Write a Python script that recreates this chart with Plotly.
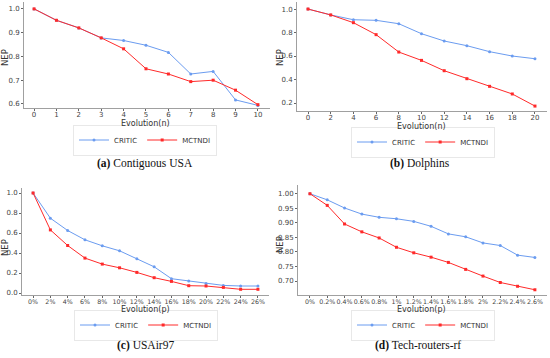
import plotly.graph_objects as go

# ---- data ----
a_x = [0, 1, 2, 3, 4, 5, 6, 7, 8, 9, 10]
a_critic = [1.0, 0.952, 0.92, 0.878, 0.867, 0.847, 0.817, 0.726, 0.737, 0.617, 0.594]
a_mctndi = [1.0, 0.952, 0.92, 0.878, 0.832, 0.748, 0.726, 0.694, 0.700, 0.658, 0.597]

b_x = [0, 2, 4, 6, 8, 10, 12, 14, 16, 18, 20]
b_critic = [1.0, 0.95, 0.909, 0.904, 0.875, 0.79, 0.728, 0.688, 0.637, 0.600, 0.577]
b_mctndi = [1.0, 0.95, 0.884, 0.782, 0.634, 0.563, 0.475, 0.407, 0.342, 0.277, 0.174]

c_x = ["0%", "2%", "4%", "6%", "8%", "10%", "12%", "14%", "16%", "18%", "20%", "22%", "24%", "26%"]
c_critic = [1.0, 0.748, 0.625, 0.532, 0.472, 0.422, 0.342, 0.262, 0.143, 0.120, 0.096, 0.076, 0.070, 0.070]
c_mctndi = [1.0, 0.631, 0.475, 0.349, 0.289, 0.252, 0.206, 0.153, 0.116, 0.073, 0.070, 0.056, 0.037, 0.037]

d_x = ["0%", "0.2%", "0.4%", "0.6%", "0.8%", "1%", "1.2%", "1.4%", "1.6%", "1.8%", "2%", "2.2%", "2.4%", "2.6%"]
d_critic = [1.0, 0.979, 0.951, 0.930, 0.919, 0.914, 0.905, 0.888, 0.862, 0.852, 0.831, 0.822, 0.789, 0.781]
d_mctndi = [1.0, 0.960, 0.896, 0.869, 0.848, 0.816, 0.797, 0.782, 0.764, 0.740, 0.717, 0.695, 0.682, 0.670]

captions = ["<b>(a)</b> Contiguous USA", "<b>(b)</b> Dolphins", "<b>(c)</b> USAir97", "<b>(d)</b> Tech-routers-rf"]
xtitles = ["Evolution(n)", "Evolution(n)", "Evolution(p)", "Evolution(p)"]
ytitle = "NEP"

BLUE = "#6b9cf0"
RED = "#ff2a2a"
W, H = 550, 358

def px(x):
    return x / W

def py(y):
    return 1 - y / H

fig = go.Figure()

panels = [
    dict(x=a_x, c=a_critic, m=a_mctndi, xr=[-0.45, 10.54], yr=[0.583, 1.029],
         dom_x=[24, 270], dom_y=[2, 108], dtick=0.1, fmt=".1f", leg=(145, 140), cap=(145, 163), tf=7,
         xt=(145, 124), yt=(5, 58)),
    dict(x=b_x, c=b_critic, m=b_mctndi, xr=[-0.97, 21.06], yr=[0.132, 1.06],
         dom_x=[297, 547], dom_y=[2, 111], dtick=0.2, fmt=".1f", leg=(423, 142), cap=(420, 163), tf=7,
         xt=(422, 126), yt=(280, 57)),
    dict(x=c_x, c=c_critic, m=c_mctndi, xr=[-0.64, 13.64], yr=[-0.02, 1.05],
         dom_x=[22, 269], dom_y=[188, 295], dtick=0.2, fmt=".1f", leg=(146, 325), cap=(145, 345), tf=6.3,
         xt=(145, 309), yt=(5, 248)),
    dict(x=d_x, c=d_critic, m=d_mctndi, xr=[-0.69, 13.7], yr=[0.652, 1.03],
         dom_x=[298, 547], dom_y=[185, 295], dtick=0.05, fmt=".2f", leg=(423, 325), cap=(418, 345), tf=6.3,
         xt=(422, 309), yt=(280, 244)),
]

layout = {}
annotations = []
for i, p in enumerate(panels):
    n = i + 1
    sx = "" if n == 1 else str(n)
    leg = "legend" if n == 1 else f"legend{n}"
    fig.add_trace(go.Scatter(x=p["x"], y=p["c"], name="CRITIC", mode="lines+markers",
                             line=dict(color=BLUE, width=1), marker=dict(color=BLUE, size=3),
                             xaxis="x" + sx, yaxis="y" + sx, legend=leg))
    fig.add_trace(go.Scatter(x=p["x"], y=p["m"], name="MCTNDI", mode="lines+markers",
                             line=dict(color=RED, width=1), marker=dict(color=RED, size=3, symbol="square"),
                             xaxis="x" + sx, yaxis="y" + sx, legend=leg))
    ystyle = dict(showline=True, linecolor="#a0a0a0", linewidth=1, showgrid=False, zeroline=False,
                  ticks="outside", ticklen=2, tickcolor="#666",
                  tickfont=dict(size=7, color="#444", family="DejaVu Sans"))
    xstyle = dict(ystyle, tickfont=dict(size=p["tf"], color="#444", family="DejaVu Sans"), tickangle=0,
                  ticklabelstandoff=-2)
    layout["xaxis" + sx] = dict(xstyle, domain=[px(p["dom_x"][0]), px(p["dom_x"][1])],
                                range=p["xr"], anchor="y" + sx, automargin=False,
                                **({"dtick": 2 if n == 2 else 1} if n <= 2 else {"type": "category"}))
    layout["yaxis" + sx] = dict(ystyle, domain=[py(p["dom_y"][1]), py(p["dom_y"][0])],
                                range=p["yr"], anchor="x" + sx, dtick=p["dtick"], tickformat=p["fmt"],
                                automargin=False)
    layout[leg] = dict(orientation="h", x=px(p["leg"][0]), y=py(p["leg"][1]), xanchor="center",
                       yanchor="middle", font=dict(size=7, color="#333", family="DejaVu Sans"),
                       bgcolor="rgba(0,0,0,0)", bordercolor="#e8e8e8", borderwidth=1,
                       itemwidth=30, tracegroupgap=0)
    annotations.append(dict(text=captions[i], x=px(p["cap"][0]), y=py(p["cap"][1]), xref="paper", yref="paper",
                            showarrow=False, xanchor="center", yanchor="middle",
                            font=dict(size=11.5, color="#111", family="Liberation Serif")))
    annotations.append(dict(text=xtitles[i], x=px(p["xt"][0]), y=py(p["xt"][1]), xref="paper", yref="paper",
                            showarrow=False, xanchor="center", yanchor="middle",
                            font=dict(size=8, color="#333", family="DejaVu Sans")))
    annotations.append(dict(text=ytitle, x=px(p["yt"][0]), y=py(p["yt"][1]), xref="paper", yref="paper",
                            showarrow=False, xanchor="center", yanchor="middle", textangle=-90,
                            font=dict(size=8.5, color="#333", family="DejaVu Sans")))

fig.update_layout(width=W, height=H, margin=dict(l=0, r=0, t=0, b=0, autoexpand=False), plot_bgcolor="white",
                  paper_bgcolor="white", showlegend=True, annotations=annotations, **layout)

fig.write_html("out.html", config={"displayModeBar": False},
               post_script="document.body.style.margin='0';document.body.style.padding='0';")
